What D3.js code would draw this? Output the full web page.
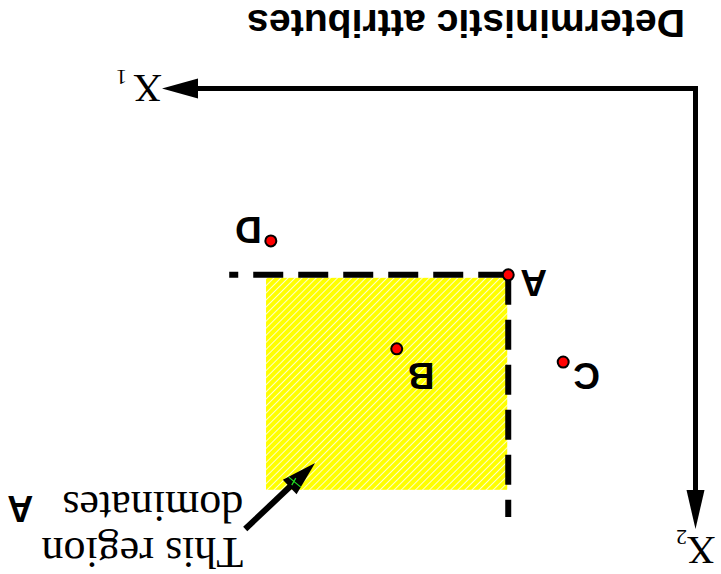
<!DOCTYPE html>
<html>
<head>
<meta charset="utf-8">
<script src="https://cdn.jsdelivr.net/npm/d3@7"></script>
<style>
  html, body { margin: 0; padding: 0; background: #ffffff; }
  svg { display: block; }
</style>
</head>
<body>
<script>
// Data (axis units 0..100 along X1 and X2)
const pointNames = ['A', 'B', 'C', 'D'];
const pointX1 = [35.1, 56.0, 24.8, 79.6];
const pointX2 = [42.3, 59.1, 62.1, 34.6];

// region dominated by A, and the extent of its guide lines
const regionX1 = [35.1, 80.5];
const regionX2 = [42.3, 91.1];
const guideEnd = { x1: 87.4, x2: 97.3 };

// annotation arrow, from text to region
const noteFrom = [84.4, 100.0];
const noteTo = [71.3, 85.0];
const noteLines = ['This region', 'dominates'];
const noteTarget = 'A';

const titleText = 'Deterministic attributes';
const axisNames = ['X', 'X'];
const axisSubs = ['1', '2'];

const Constants = {
  width: 721,
  height: 574,
  origin: { x: 25.5, y: 485.5 },
  x1End: 559,
  x2End: 45,
  sans: '"Liberation Sans", Arial, Helvetica, sans-serif',
  serif: '"Liberation Serif", "Times New Roman", serif',
};

// label placement per point: [anchor, dx, dy]
const labelOffsets = {
  A: ['end', -12, 5],
  B: ['end', -11, -14],
  C: ['end', -10, -1],
  D: ['start', 9, 24],
};

const x = d3.scaleLinear().domain([0, 100]).range([Constants.origin.x, Constants.x1End]);
const y = d3.scaleLinear().domain([0, 100]).range([Constants.origin.y, Constants.x2End]);

const svg = d3.select('body')
  .append('svg')
  .attr('width', Constants.width)
  .attr('height', Constants.height)
  .attr('xmlns', 'http://www.w3.org/2000/svg');

// hatched yellow fill
const defs = svg.append('defs');
const pat = defs.append('pattern')
  .attr('id', 'hatch')
  .attr('patternUnits', 'userSpaceOnUse')
  .attr('width', 5)
  .attr('height', 5)
  .attr('patternTransform', 'rotate(45)');
pat.append('rect').attr('width', 5).attr('height', 5).attr('fill', '#ffff00');
pat.append('line')
  .attr('x1', 0).attr('y1', 0).attr('x2', 0).attr('y2', 5)
  .attr('stroke', '#ffffff').attr('stroke-width', 1.6);

// the whole figure is drawn upside down, as in the source
const g = svg.append('g')
  .attr('transform', `rotate(180, ${Constants.width / 2}, ${Constants.height / 2})`);

function arrowHead(x0, y0, x1, y1, len, half) {
  const dx = x1 - x0, dy = y1 - y0;
  const l = Math.sqrt(dx * dx + dy * dy);
  const ux = dx / l, uy = dy / l;
  const bx = x1 - ux * len, by = y1 - uy * len;
  return `M${x1},${y1}L${bx - uy * half},${by + ux * half}L${bx + uy * half},${by - ux * half}Z`;
}

// dominated region
g.append('rect')
  .attr('x', x(regionX1[0]) + 1)
  .attr('y', y(regionX2[1]))
  .attr('width', x(regionX1[1]) - x(regionX1[0]) - 1)
  .attr('height', y(regionX2[0]) - y(regionX2[1]) - 3)
  .attr('fill', 'url(#hatch)');

// dashed guides through A
const ai = pointNames.indexOf('A');
const ax = x(pointX1[ai]), ay = y(pointX2[ai]);
g.append('path')
  .attr('d', `M${ax},${ay}L${x(guideEnd.x1)},${ay}`)
  .attr('fill', 'none')
  .attr('stroke', '#000')
  .attr('stroke-width', 6)
  .attr('stroke-dasharray', '30,15');
g.append('path')
  .attr('d', `M${ax},${ay}L${ax},${y(guideEnd.x2)}`)
  .attr('fill', 'none')
  .attr('stroke', '#000')
  .attr('stroke-width', 6)
  .attr('stroke-dasharray', '30,15');

// axes
g.append('path')
  .attr('d', `M${x(0)},${y(100) + 30}L${x(0)},${y(0)}L${x(100) - 30},${y(0)}`)
  .attr('fill', 'none')
  .attr('stroke', '#000')
  .attr('stroke-width', 5)
  .attr('stroke-linejoin', 'miter');
g.append('path')
  .attr('d', arrowHead(x(0), y(0), x(100), y(0), 36, 10))
  .attr('fill', '#000');
g.append('path')
  .attr('d', arrowHead(x(0), y(0), x(0), y(100), 39, 9))
  .attr('fill', '#000');

// axis labels
g.append('text')
  .attr('x', x(100)).attr('y', y(0) + 13.5)
  .style('font-family', Constants.serif).style('font-size', '40px')
  .text(axisNames[0]);
g.append('text')
  .attr('x', x(100) + 35).attr('y', y(0) + 18.5)
  .style('font-family', Constants.serif).style('font-size', '22px')
  .text(axisSubs[0]);
g.append('text')
  .attr('x', x(0) - 20).attr('y', y(100) - 8)
  .style('font-family', Constants.serif).style('font-size', '40px')
  .text(axisNames[1]);
g.append('text')
  .attr('x', x(0) + 8.5).attr('y', y(100) - 1)
  .style('font-family', Constants.serif).style('font-size', '22px')
  .text(axisSubs[1]);

// title
g.append('text')
  .attr('x', 36).attr('y', 564)
  .attr('textLength', 438)
  .attr('lengthAdjust', 'spacingAndGlyphs')
  .style('font-family', Constants.sans).style('font-weight', 'bold').style('font-size', '38px')
  .text(titleText);

// points
const pts = pointNames.map((n, i) => ({ name: n, cx: x(pointX1[i]), cy: y(pointX2[i]) }));
const nodes = g.selectAll('.pt').data(pts).enter().append('g');
nodes.append('circle')
  .attr('cx', d => d.cx)
  .attr('cy', d => d.cy)
  .attr('r', 5.5)
  .attr('fill', '#ff0000')
  .attr('stroke', '#000')
  .attr('stroke-width', 2);
nodes.append('text')
  .attr('x', d => d.cx + labelOffsets[d.name][1])
  .attr('y', d => d.cy + labelOffsets[d.name][2])
  .attr('text-anchor', d => labelOffsets[d.name][0])
  .style('font-family', Constants.sans).style('font-weight', 'bold').style('font-size', '37px')
  .text(d => d.name);

// annotation arrow
const nx0 = x(noteFrom[0]), ny0 = y(noteFrom[1]);
const nx1 = x(noteTo[0]), ny1 = y(noteTo[1]);
const nl = Math.hypot(nx1 - nx0, ny1 - ny0);
g.append('line')
  .attr('x1', nx0).attr('y1', ny0)
  .attr('x2', nx0 + (nx1 - nx0) * (nl - 30) / nl)
  .attr('y2', ny0 + (ny1 - ny0) * (nl - 30) / nl)
  .attr('stroke', '#000')
  .attr('stroke-width', 6);
g.append('path')
  .attr('d', arrowHead(nx0, ny0, nx1, ny1, 35, 10))
  .attr('fill', '#000');
// small green marks at the arrowhead base
const gbx = nx1 + (nx0 - nx1) * 28 / nl, gby = ny1 + (ny0 - ny1) * 28 / nl;
g.append('path')
  .attr('d', `M${gbx - 6},${gby - 5}L${gbx + 6},${gby + 5}M${gbx - 1},${gby + 4}L${gbx + 3},${gby - 3}`)
  .attr('stroke', '#22dd22')
  .attr('stroke-width', 1.2)
  .attr('fill', 'none');

// annotation text
g.append('text')
  .attr('x', nx0 + 2).attr('y', ny0 - 9)
  .style('font-family', Constants.serif).style('font-size', '44px')
  .text(noteLines[0]);
g.append('text')
  .attr('x', nx0 + 2).attr('y', ny0 + 37)
  .style('font-family', Constants.serif).style('font-size', '44px')
  .text(noteLines[1]);
g.append('text')
  .attr('x', nx0 + 212).attr('y', ny0 + 33)
  .style('font-family', Constants.sans).style('font-weight', 'bold').style('font-size', '36px')
  .text(noteTarget);
</script>
</body>
</html>
